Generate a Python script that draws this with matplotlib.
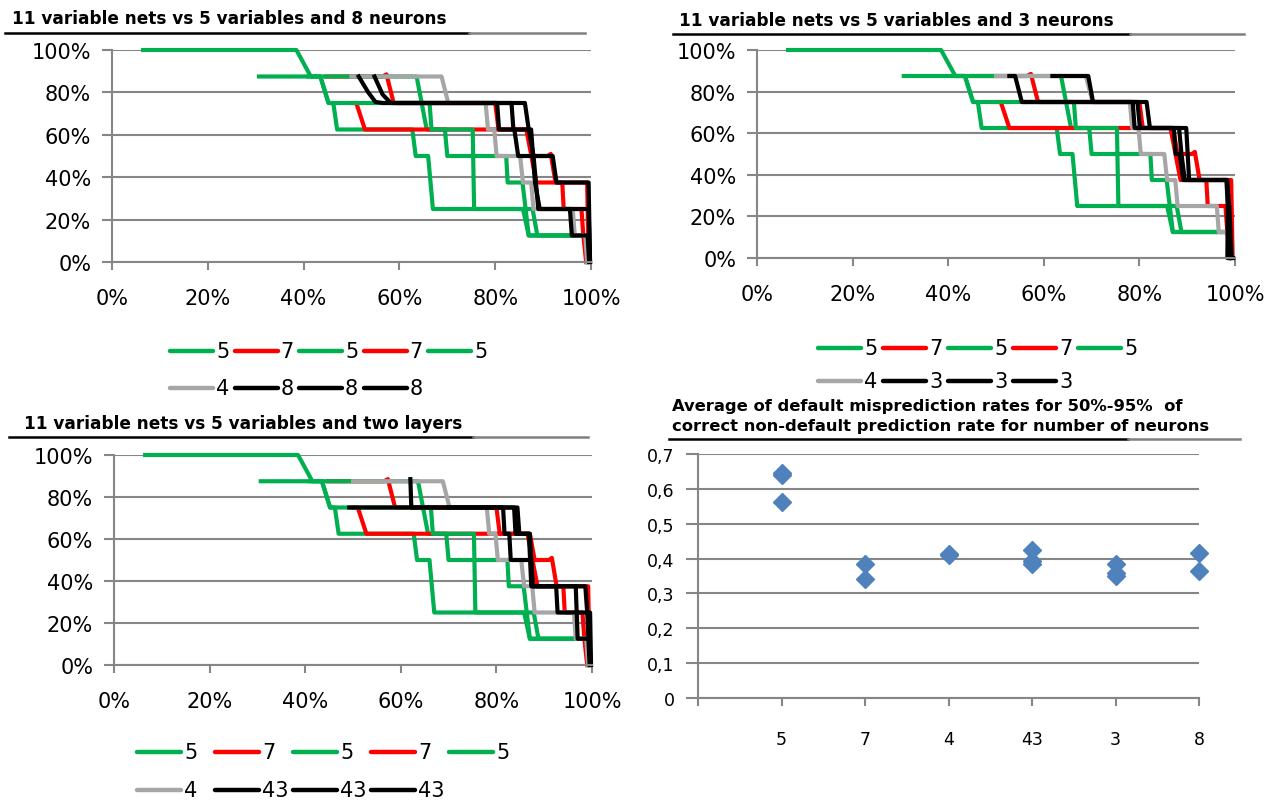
import matplotlib
matplotlib.use("Agg")
import matplotlib.pyplot as plt
from matplotlib.lines import Line2D
from matplotlib.ticker import FuncFormatter

W, H = 1288, 803

# --- series shared by the three step charts (x = % correct non-default, y = %) ---
g1_x = [6.5, 38.5, 41.5, 43.5, 45.2, 46.2, 47.0, 62.7, 63.4, 66.0, 67.0, 85.8, 87.0, 98.9, 99.3]
g1_y = [100, 100, 87.5, 87.5, 75, 75, 62.5, 62.5, 50, 50, 25, 25, 12.5, 12.5, 0]

r1_x = [44.8, 56.5, 57.3, 58.8, 80.0, 80.7, 86.5, 88.6, 94.0, 94.3, 98.0, 98.4, 99.0]
r1_y = [87.5, 87.5, 88.5, 75, 75, 62.5, 62.5, 37.5, 37.5, 25, 25, 12.5, 0]

g2_x = [30.7, 63.6, 65.7, 69.5, 70.0, 82.3, 82.6, 85.7, 87.0, 98.9, 99.3]
g2_y = [87.5, 87.5, 62.5, 62.5, 50, 50, 37.5, 37.5, 12.5, 12.5, 0]

r2_x = [50.0, 51.0, 52.8, 87.0, 88.0, 91.0, 91.6, 92.6, 99.2, 99.5]
r2_y = [75, 75, 62.5, 62.5, 50, 50, 51, 37.5, 37.5, 0]

g3_x = [41.0, 43.5, 45.2, 66.3, 66.7, 75.3, 75.6, 87.8, 88.8, 98.9, 99.3]
g3_y = [87.5, 87.5, 75, 75, 62.5, 62.5, 25, 25, 12.5, 12.5, 0]

gr_x = [50.0, 68.8, 70.2, 78.0, 78.5, 79.8, 80.3, 85.2, 85.8, 87.5, 88.0, 96.2, 96.6, 98.8, 99.2]
gr_y = [87.5, 87.5, 75, 75, 62.5, 62.5, 50, 50, 37.5, 37.5, 25, 25, 12.5, 12.5, 0]

# --- black series, 8 neurons ---
b8a_x = [51.5, 53.5, 55.0, 56.5, 86.2, 87.0, 88.0, 88.5, 89.0, 99.5, 99.8]
b8a_y = [87.5, 80, 75.5, 75, 75, 62.5, 50, 37.5, 25, 25, 0]
b8b_x = [54.8, 56.5, 58.2, 80.4, 80.8, 84.0, 84.8, 92.0, 92.8, 99.5, 99.8]
b8b_y = [87.5, 79, 75, 75, 62.5, 62.5, 50, 50, 37.5, 37.5, 0]
b8c_x = [60.0, 83.4, 83.8, 87.5, 88.3, 89.3, 95.6, 96.0, 99.3, 99.6]
b8c_y = [75, 75, 62.5, 62.5, 37.5, 25, 25, 12.5, 12.5, 0]

# --- black series, 3 neurons ---
b3a_x = [52.8, 54.0, 55.4, 81.5, 82.2, 89.8, 90.4, 98.3, 98.8, 99.3]
b3a_y = [87.5, 87.5, 75, 75, 62.5, 62.5, 37.5, 37.5, 25, 0]
b3b_x = [61.8, 69.3, 70.3, 78.6, 79.0, 87.2, 87.6, 88.4, 89.2, 98.4, 98.8]
b3b_y = [87.5, 87.5, 75, 75, 62.5, 62.5, 50, 50, 37.5, 37.5, 0]
b3c_x = [56.0, 79.6, 80.1, 88.3, 88.8, 89.5, 98.2, 98.5, 98.4, 99.6]
b3c_y = [75, 75, 62.5, 62.5, 50, 37.5, 37.5, 25, 0, 0]

# --- black series, two layers (4+3) ---
b43a_x = [49.2, 84.4, 84.8, 87.0, 87.6, 98.6, 99.0, 99.5]
b43a_y = [75, 75, 62.5, 62.5, 37.5, 37.5, 25, 0]
b43b_x = [62.0, 62.2, 81.4, 81.7, 82.7, 83.0, 87.2, 87.6, 92.5, 92.8, 99.6, 99.8]
b43b_y = [88.5, 75, 75, 62.5, 62.5, 50, 50, 37.5, 37.5, 25, 25, 0]
b43c_x = [70.0, 83.7, 84.0, 86.8, 87.3, 96.6, 97.0, 99.4, 99.7]
b43c_y = [75, 75, 62.5, 62.5, 37.5, 37.5, 12.5, 12.5, 0]

# --- scatter: average default misprediction rate per number of neurons ---
neuron_labels = ["5", "7", "4", "43", "3", "8"]
avg_5 = [0.645, 0.640, 0.561]
avg_7 = [0.383, 0.342]
avg_4 = [0.413, 0.409]
avg_43 = [0.424, 0.393, 0.384]
avg_3 = [0.383, 0.360, 0.350]
avg_8 = [0.417, 0.365]

GREEN, RED, GRAY, BLACK = "#00B050", "#FF0000", "#A6A6A6", "#000000"
GRID = "#868686"


def fx(px):
    return px / W


def fy(py):
    return 1 - py / H


def axes_px(fig, x0, y0, x1, y1):
    return fig.add_axes([fx(x0), fy(y1), (x1 - x0) / W, (y1 - y0) / H])


def titulo(fig, x, y, linhas, ux0, ux1, ublack, uy, size=12.2):
    for i, t in enumerate(linhas):
        fig.text(fx(x), fy(y + i * 20), t, fontsize=size, fontweight="bold",
                 ha="left", va="center")
    fig.add_artist(Line2D([fx(ux0), fx(ublack)], [fy(uy), fy(uy)], color="black", lw=1.8))
    fig.add_artist(Line2D([fx(ublack), fx(ux1)], [fy(uy), fy(uy)], color="#808080", lw=1.8))


def legenda(fig, x0, y0, dx, dy, cores, rotulos, hl=43):
    for i, (c, r) in enumerate(zip(cores, rotulos)):
        lin, col = divmod(i, 5)
        xa = x0 + col * dx
        ya = y0 + lin * dy
        fig.add_artist(Line2D([fx(xa), fx(xa + hl)], [fy(ya), fy(ya)], color=c, lw=3.2,
                              solid_capstyle="round"))
        fig.text(fx(xa + hl + 3), fy(ya), r, fontsize=15, ha="left", va="center")


def estilo_eixo(ax):
    for s in ["top", "right"]:
        ax.spines[s].set_visible(False)
    for s in ["left", "bottom"]:
        ax.spines[s].set_color(GRID)
        ax.spines[s].set_linewidth(1.5)
    ax.grid(axis="y", color=GRID, lw=1.5)
    ax.set_axisbelow(True)


def painel_degraus(ax, pretos):
    series = [(g1_x, g1_y, GREEN), (r1_x, r1_y, RED), (g2_x, g2_y, GREEN),
              (r2_x, r2_y, RED), (g3_x, g3_y, GREEN), (gr_x, gr_y, GRAY)]
    series += [(x, y, BLACK) for x, y in pretos]
    for x, y, c in series:
        ax.plot(x, y, color=c, lw=3, clip_on=False, solid_joinstyle="round")
    ax.set_xlim(0, 100)
    ax.set_ylim(0, 100)
    ax.set_xticks(range(0, 101, 20))
    ax.set_yticks(range(0, 101, 20))
    fmt = FuncFormatter(lambda v, p: f"{v:.0f}%")
    ax.xaxis.set_major_formatter(fmt)
    ax.yaxis.set_major_formatter(fmt)
    estilo_eixo(ax)
    ax.tick_params(axis="x", direction="out", length=6, width=1.5, color=GRID,
                   labelsize=15, pad=13)
    ax.tick_params(axis="y", direction="out", length=7, width=1.5, color=GRID,
                   labelsize=15, pad=8)


fig = plt.figure(figsize=(W / 100, H / 100), dpi=100)

ax1 = axes_px(fig, 112, 51, 591, 263)
painel_degraus(ax1, [(b8a_x, b8a_y), (b8b_x, b8b_y), (b8c_x, b8c_y)])
titulo(fig, 12, 19, ["11 variable nets vs 5 variables and 8 neurons"], 5, 585, 469, 34)

ax2 = axes_px(fig, 757, 51, 1235, 259)
painel_degraus(ax2, [(b3a_x, b3a_y), (b3b_x, b3b_y), (b3c_x, b3c_y)])
titulo(fig, 679, 21, ["11 variable nets vs 5 variables and 3 neurons"], 673, 1244, 1130, 35)

ax3 = axes_px(fig, 114, 456, 592, 666)
painel_degraus(ax3, [(b43a_x, b43a_y), (b43b_x, b43b_y), (b43c_x, b43c_y)])
titulo(fig, 24, 424, ["11 variable nets vs 5 variables and two layers"], 9, 588, 473, 438)

cores = [GREEN, RED, GREEN, RED, GREEN, GRAY, BLACK, BLACK, BLACK]
legenda(fig, 170, 352, 64.5, 37, cores, ["5", "7", "5", "7", "5", "4", "8", "8", "8"])
legenda(fig, 818, 349, 65, 33, cores, ["5", "7", "5", "7", "5", "4", "3", "3", "3"])
legenda(fig, 137, 753, 78, 38, cores, ["5", "7", "5", "7", "5", "4", "43", "43", "43"], hl=44)

# scatter panel
ax4 = axes_px(fig, 698, 455, 1199, 699)
grupos = [avg_5, avg_7, avg_4, avg_43, avg_3, avg_8]
for i, vals in enumerate(grupos, start=1):
    ax4.plot([i] * len(vals), vals, linestyle="none", marker="D", ms=9,
             color="#4F81BD", clip_on=False)
ax4.set_xlim(0, 6)
ax4.set_ylim(0, 0.7)
ax4.set_xticks(range(0, 7))
ax4.set_xticklabels([""] + neuron_labels)
ax4.set_yticks([i / 10 for i in range(8)])
ax4.set_yticklabels(["0"] + [f"0,{i}" for i in range(1, 8)])
estilo_eixo(ax4)
ax4.tick_params(axis="x", direction="out", length=6, width=1.5, color=GRID,
                labelsize=12.5, pad=17)
ax4.tick_params(axis="y", direction="out", length=9, width=1.5, color=GRID,
                labelsize=12.5, pad=8)
titulo(fig, 672, 407,
       ["Average of default misprediction rates for 50%-95%  of",
        "correct non-default prediction rate for number of neurons"],
       669, 1240, 1128, 440, size=11.8)

fig.savefig("out.png", dpi=100)
